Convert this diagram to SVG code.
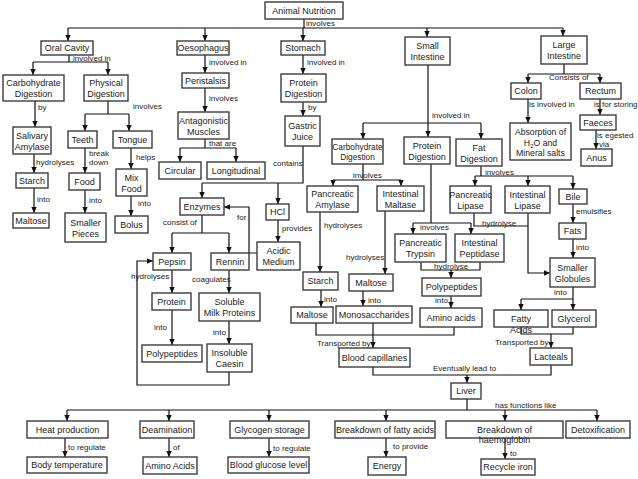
<svg xmlns="http://www.w3.org/2000/svg" width="638" height="479" viewBox="0 0 638 479">
<style>
.n rect{fill:#fff;stroke:#3c3c3c;stroke-width:1.4}
.n text{font-family:"Liberation Sans",Arial,sans-serif;font-size:9px;fill:#222;text-anchor:middle}
.n.s text{font-size:8.3px}
.n.m text{font-size:8.7px}
.c path{fill:none;stroke:#111;stroke-width:1.2}
.c path.a{marker-end:url(#ah)}
.l text{font-family:"Liberation Sans",Arial,sans-serif;font-size:8px;fill:#222}
</style>
<defs>
<marker id="ah" viewBox="0 0 10 10" refX="10" refY="5" markerWidth="6" markerHeight="6" markerUnits="userSpaceOnUse" orient="auto"><path d="M0,0.5 L10,5 L0,9.5 z" fill="#111"/></marker>
</defs>
<rect width="638" height="479" fill="#fff"/>
<g class="c" id="connectors">
<path d="M304,19 V28 M68,28 H563"/>
<path class="a" d="M68,28 V41"/><path class="a" d="M205,28 V41"/><path class="a" d="M303,28 V41"/><path class="a" d="M427,28 V37"/><path class="a" d="M563,28 V36"/>
<path d="M69,55 V62 M33,62 H108"/><path class="a" d="M33,62 V75"/><path class="a" d="M108,62 V75"/>
<path class="a" d="M35,101 V127"/>
<path d="M108,101 V114 M85,114 H129"/><path class="a" d="M85,114 V131"/><path class="a" d="M129,114 V131"/>
<path class="a" d="M34,154 V173"/><path class="a" d="M34,188 V213"/>
<path class="a" d="M85,148 V173"/><path class="a" d="M85,190 V213"/>
<path class="a" d="M131,148 V169"/><path class="a" d="M131,196 V216"/>
<path class="a" d="M205,55 V73"/><path class="a" d="M205,88 V112"/>
<path d="M205,139 V148 M180,148 H236"/><path class="a" d="M180,148 V162"/><path class="a" d="M236,148 V162"/>
<path class="a" d="M303,55 V74"/><path class="a" d="M303,102 V116"/>
<path d="M303,146 V183 H202"/><path class="a" d="M202,183 V198"/><path class="a" d="M278,183 V204"/>
<path class="a" d="M278,220 V242"/>
<path class="a" d="M257,253 H249 V207 H224"/>
<path d="M202,215 V233 M172,233 H229"/><path class="a" d="M172,233 V253"/><path class="a" d="M229,233 V253"/>
<path class="a" d="M172,270 V293"/><path class="a" d="M172,310 V345"/>
<path class="a" d="M229,270 V293"/><path class="a" d="M229,321 V344"/>
<path class="a" d="M229,372 V385 H137 V261 H153"/>
<path d="M564,64 V74 M528,74 H600"/><path class="a" d="M528,74 V83"/><path class="a" d="M600,74 V83"/>
<path class="a" d="M528,99 V123"/><path class="a" d="M600,99 V115"/><path class="a" d="M596,130 V149"/>
<path d="M428,65 V123 M363,123 H481"/><path class="a" d="M363,123 V139"/><path class="a" d="M428,123 V137"/><path class="a" d="M481,123 V139"/>
<path d="M363,164 V180 M333,180 H401"/><path class="a" d="M333,180 V186"/><path class="a" d="M401,180 V186"/>
<path class="a" d="M320,212 V272"/><path class="a" d="M385,211 V274"/>
<path class="a" d="M321,290 V307"/><path class="a" d="M363,291 V306"/>
<path d="M316,323 V335 H454 V327"/><path class="a" d="M373,323 V348"/>
<path d="M431,164 V223 M413,223 H471"/><path class="a" d="M413,223 V234"/><path class="a" d="M471,223 V234"/>
<path d="M421,262 V270 H480 V262"/><path class="a" d="M451,270 V278"/>
<path class="a" d="M451,296 V308"/>
<path d="M481,166 V176 M475,176 H573"/><path class="a" d="M475,176 V186"/><path class="a" d="M528,176 V186"/><path class="a" d="M573,176 V189"/>
<path d="M474,213 V226 H528"/><path class="a" d="M528,213 V273 H550"/>
<path class="a" d="M573,204 V223"/><path class="a" d="M573,239 V258"/>
<path d="M573,287 V299 M521,299 H573"/><path class="a" d="M521,299 V310"/><path class="a" d="M573,299 V310"/>
<path d="M521,327 V334 H573 V327"/><path class="a" d="M551,334 V348"/>
<path d="M551,365 V375 H373 V367"/><path class="a" d="M467,375 V383"/>
<path d="M467,399 V410 M67,410 H597"/><path class="a" d="M67,410 V421"/><path class="a" d="M169,410 V421"/><path class="a" d="M269,410 V421"/><path class="a" d="M386,410 V421"/><path class="a" d="M505,410 V421"/><path class="a" d="M597,410 V421"/>
<path class="a" d="M65,438 V457"/><path class="a" d="M169,438 V457"/><path class="a" d="M269,438 V457"/><path class="a" d="M386,438 V457"/><path class="a" d="M505,438 V459"/>
</g>
<g class="l" id="labels">
<text x="306" y="26">involves</text>
<text x="73" y="61">involved in</text>
<text x="209" y="65">involved in</text>
<text x="307" y="65">involved in</text>
<text x="38" y="110">by</text>
<text x="133" y="109">involves</text>
<text x="209" y="101">involves</text>
<text x="308" y="110">by</text>
<text x="36" y="165">hydrolyses</text>
<text x="37" y="202">into</text>
<text x="89" y="156">break</text>
<text x="89" y="165">down</text>
<text x="89" y="203">into</text>
<text x="136" y="160">helps</text>
<text x="138" y="206">into</text>
<text x="209" y="146">that are</text>
<text x="273" y="166">contains</text>
<text x="282" y="231">provides</text>
<text x="237" y="220">for</text>
<text x="163" y="225">consist of</text>
<text x="131" y="279">hydrolyses</text>
<text x="154" y="330">into</text>
<text x="192" y="282">coagulates</text>
<text x="213" y="335">into</text>
<text x="549" y="80">Consists of</text>
<text x="529" y="107">is involved in</text>
<text x="594" y="107">is for storing</text>
<text x="597" y="138">is egested</text>
<text x="599" y="147">via</text>
<text x="432" y="118">involved in</text>
<text x="353" y="178">involves</text>
<text x="324" y="228">hydrolyses</text>
<text x="346" y="260">hydrolyses</text>
<text x="324" y="302">into</text>
<text x="368" y="303">into</text>
<text x="317" y="346">Transported by</text>
<text x="420" y="230">involves</text>
<text x="434" y="269">hydrolyse</text>
<text x="435" y="303">into</text>
<text x="485" y="175">involves</text>
<text x="482" y="226">hydrolyse</text>
<text x="576" y="214">emulsifies</text>
<text x="576" y="250">into</text>
<text x="554" y="295">into</text>
<text x="495" y="345">Transported by</text>
<text x="433" y="371">Eventually lead to</text>
<text x="495" y="408">has  functions like</text>
<text x="68" y="450">to regulate</text>
<text x="173" y="450">of</text>
<text x="273" y="451">to regulate</text>
<text x="393" y="449">to provide</text>
<text x="510" y="456">to</text>
</g>
<g class="n" id="animal-nutrition"><rect x="265" y="2" width="78" height="17"/><text x="304" y="14">Animal Nutrition</text></g>
<g class="n" id="oral-cavity"><rect x="41" y="41" width="52" height="14"/><text x="67" y="51">Oral Cavity</text></g>
<g class="n" id="oesophagus"><rect x="177" y="41" width="52" height="14"/><text x="203" y="51">Oesophagus</text></g>
<g class="n" id="stomach"><rect x="281" y="41" width="44" height="14"/><text x="303" y="51">Stomach</text></g>
<g class="n" id="small-intestine"><rect x="405" y="37" width="45" height="28"/><text x="427.5" y="49">Small</text><text x="427.5" y="60">Intestine</text></g>
<g class="n" id="large-intestine"><rect x="541" y="36" width="46" height="28"/><text x="564" y="48">Large</text><text x="564" y="59">Intestine</text></g>
<g class="n" id="carbohydrate-digestion-1"><rect x="3" y="75" width="61" height="26"/><text x="33.5" y="86">Carbohydrate</text><text x="33.5" y="97">Digestion</text></g>
<g class="n" id="physical-digestion"><rect x="84" y="75" width="44" height="26"/><text x="106" y="86">Physical</text><text x="106" y="97">Digestion</text></g>
<g class="n" id="peristalsis"><rect x="182" y="73" width="47" height="15"/><text x="205.5" y="84">Peristalsis</text></g>
<g class="n" id="antagonistic-muscles"><rect x="178" y="112" width="51" height="27"/><text x="203.5" y="123.5">Antagonistic</text><text x="203.5" y="134.5">Muscles</text></g>
<g class="n" id="protein-digestion-1"><rect x="281" y="74" width="45" height="28"/><text x="303.5" y="86">Protein</text><text x="303.5" y="97">Digestion</text></g>
<g class="n" id="gastric-juice"><rect x="285" y="116" width="35" height="30"/><text x="302.5" y="129">Gastric</text><text x="302.5" y="140">Juice</text></g>
<g class="n" id="salivary-amylase"><rect x="13" y="127" width="38" height="27"/><text x="32" y="138.5">Salivary</text><text x="32" y="149.5">Amylase</text></g>
<g class="n" id="teeth"><rect x="68" y="131" width="29" height="17"/><text x="82.5" y="142.7">Teeth</text></g>
<g class="n" id="tongue"><rect x="113" y="131" width="39" height="17"/><text x="132.5" y="142.7">Tongue</text></g>
<g class="n" id="starch-1"><rect x="16" y="173" width="32" height="15"/><text x="32" y="183.7">Starch</text></g>
<g class="n" id="food"><rect x="69" y="173" width="31" height="17"/><text x="84.5" y="184.7">Food</text></g>
<g class="n" id="mix-food"><rect x="116" y="169" width="31" height="27"/><text x="131.5" y="180.5">Mix</text><text x="131.5" y="191.5">Food</text></g>
<g class="n" id="maltose-1"><rect x="13" y="213" width="36" height="15"/><text x="31" y="223.7">Maltose</text></g>
<g class="n" id="smaller-pieces"><rect x="65" y="213" width="41" height="29"/><text x="85.5" y="225.5">Smaller</text><text x="85.5" y="236.5">Pieces</text></g>
<g class="n" id="bolus"><rect x="115" y="216" width="33" height="17"/><text x="131.5" y="227.7">Bolus</text></g>
<g class="n" id="circular"><rect x="159" y="162" width="42" height="17"/><text x="180" y="173.7">Circular</text></g>
<g class="n" id="longitudinal"><rect x="207" y="162" width="58" height="17"/><text x="236" y="173.7">Longitudinal</text></g>
<g class="n" id="enzymes"><rect x="180" y="198" width="44" height="17"/><text x="202" y="209.7">Enzymes</text></g>
<g class="n" id="hcl"><rect x="266" y="204" width="23" height="16"/><text x="277.5" y="215.2">HCl</text></g>
<g class="n" id="acidic-medium"><rect x="257" y="242" width="43" height="28"/><text x="278.5" y="254">Acidic</text><text x="278.5" y="265">Medium</text></g>
<g class="n" id="pepsin"><rect x="153" y="253" width="38" height="17"/><text x="172" y="264.7">Pepsin</text></g>
<g class="n" id="rennin"><rect x="211" y="253" width="38" height="17"/><text x="230" y="264.7">Rennin</text></g>
<g class="n" id="protein"><rect x="152" y="293" width="39" height="17"/><text x="171.5" y="304.7">Protein</text></g>
<g class="n" id="soluble-milk-proteins"><rect x="199" y="293" width="61" height="28"/><text x="229.5" y="305">Soluble</text><text x="229.5" y="316">Milk Proteins</text></g>
<g class="n" id="polypeptides-1"><rect x="142" y="345" width="60" height="17"/><text x="172" y="356.7">Polypeptides</text></g>
<g class="n" id="insoluble-caesin"><rect x="207" y="344" width="45" height="28"/><text x="229.5" y="356">Insoluble</text><text x="229.5" y="367">Caesin</text></g>
<g class="n s" id="carbohydrate-digestion-2"><rect x="332" y="139" width="51" height="25"/><text x="357.5" y="149.5">Carbohydrate</text><text x="357.5" y="160">Digestion</text></g>
<g class="n" id="protein-digestion-2"><rect x="404" y="137" width="46" height="27"/><text x="427" y="148.5">Protein</text><text x="427" y="159.5">Digestion</text></g>
<g class="n" id="fat-digestion"><rect x="456" y="139" width="46" height="27"/><text x="479" y="150.5">Fat</text><text x="479" y="161.5">Digestion</text></g>
<g class="n m" id="absorption"><rect x="510" y="123" width="61" height="37"/><text x="540.5" y="135">Absorption of</text><text x="540.5" y="145.5">H<tspan font-size="6" dy="2">2</tspan><tspan dy="-2">O and</tspan></text><text x="540.5" y="156">Mineral salts</text></g>
<g class="n" id="colon"><rect x="511" y="83" width="30" height="16"/><text x="526" y="94.2">Colon</text></g>
<g class="n" id="rectum"><rect x="580" y="83" width="41" height="16"/><text x="600.5" y="94.2">Rectum</text></g>
<g class="n" id="faeces"><rect x="580" y="115" width="36" height="15"/><text x="598" y="125.7">Faeces</text></g>
<g class="n" id="anus"><rect x="581" y="149" width="31" height="17"/><text x="596.5" y="160.7">Anus</text></g>
<g class="n" id="pancreatic-amylase"><rect x="307" y="186" width="51" height="26"/><text x="332.5" y="197">Pancreatic</text><text x="332.5" y="208">Amylase</text></g>
<g class="n" id="intestinal-maltase"><rect x="377" y="186" width="47" height="25"/><text x="400.5" y="196.5">Intestinal</text><text x="400.5" y="207.5">Maltase</text></g>
<g class="n" id="pancreatic-lipase"><rect x="450" y="186" width="41" height="27"/><text x="470.5" y="197.5">Pancreatic</text><text x="470.5" y="208.5">Lipase</text></g>
<g class="n" id="intestinal-lipase"><rect x="505" y="186" width="45" height="27"/><text x="527.5" y="197.5">Intestinal</text><text x="527.5" y="208.5">Lipase</text></g>
<g class="n" id="bile"><rect x="559" y="189" width="28" height="15"/><text x="573" y="199.7">Bile</text></g>
<g class="n" id="fats"><rect x="559" y="223" width="27" height="16"/><text x="572.5" y="234.2">Fats</text></g>
<g class="n" id="pancreatic-trypsin"><rect x="395" y="234" width="51" height="28"/><text x="420.5" y="246">Pancreatic</text><text x="420.5" y="257">Trypsin</text></g>
<g class="n" id="intestinal-peptidase"><rect x="455" y="234" width="49" height="28"/><text x="479.5" y="246">Intestinal</text><text x="479.5" y="257">Peptidase</text></g>
<g class="n" id="smaller-globules"><rect x="550" y="258" width="45" height="29"/><text x="572.5" y="270.5">Smaller</text><text x="572.5" y="281.5">Globules</text></g>
<g class="n" id="starch-2"><rect x="303" y="272" width="35" height="18"/><text x="320.5" y="284.2">Starch</text></g>
<g class="n" id="maltose-2"><rect x="349" y="274" width="44" height="17"/><text x="371" y="285.7">Maltose</text></g>
<g class="n" id="polypeptides-2"><rect x="422" y="278" width="59" height="18"/><text x="451.5" y="290.2">Polypeptides</text></g>
<g class="n" id="maltose-3"><rect x="291" y="307" width="42" height="16"/><text x="312" y="318.2">Maltose</text></g>
<g class="n" id="monosaccharides"><rect x="336" y="306" width="76" height="17"/><text x="374" y="317.7">Monosaccharides</text></g>
<g class="n" id="amino-acids"><rect x="420" y="308" width="62" height="19"/><text x="451" y="320.7">Amino acids</text></g>
<g class="n" id="fatty-acids"><rect x="494" y="310" width="54" height="17"/><text x="521" y="322">Fatty</text><text x="521" y="333">Acids</text></g>
<g class="n" id="glycerol"><rect x="552" y="310" width="44" height="17"/><text x="574" y="321.7">Glycerol</text></g>
<g class="n" id="blood-capillaries"><rect x="339" y="348" width="71" height="19"/><text x="374.5" y="360.7">Blood capillaries</text></g>
<g class="n" id="lacteals"><rect x="530" y="348" width="42" height="17"/><text x="551" y="359.7">Lacteals</text></g>
<g class="n" id="liver"><rect x="451" y="383" width="30" height="16"/><text x="466" y="394.2">Liver</text></g>
<g class="n" id="heat-production"><rect x="27" y="421" width="81" height="17"/><text x="67.5" y="432.7">Heat production</text></g>
<g class="n" id="deamination"><rect x="140" y="421" width="54" height="17"/><text x="167" y="432.7">Deamination</text></g>
<g class="n" id="glycogen-storage"><rect x="230" y="421" width="79" height="17"/><text x="269.5" y="432.7">Glycogen storage</text></g>
<g class="n" id="breakdown-fatty-acids"><rect x="335" y="421" width="100" height="17"/><text x="385" y="432.7">Breakdown of fatty acids</text></g>
<g class="n" id="breakdown-haemoglobin"><rect x="446" y="421" width="117" height="17"/><text x="504.5" y="433">Breakdown of</text><text x="504.5" y="443">haemoglobin</text></g>
<g class="n" id="detoxification"><rect x="566" y="421" width="64" height="17"/><text x="598" y="432.7">Detoxification</text></g>
<g class="n" id="body-temperature"><rect x="27" y="457" width="80" height="16"/><text x="67" y="468.2">Body temperature</text></g>
<g class="n" id="amino-acids-2"><rect x="143" y="457" width="54" height="17"/><text x="170" y="468.7">Amino Acids</text></g>
<g class="n" id="blood-glucose-level"><rect x="228" y="457" width="81" height="16"/><text x="268.5" y="468.2">Blood glucose level</text></g>
<g class="n" id="energy"><rect x="368" y="457" width="38" height="18"/><text x="387" y="469.2">Energy</text></g>
<g class="n" id="recycle-iron"><rect x="481" y="459" width="54" height="16"/><text x="508" y="470.2">Recycle iron</text></g>
</svg>
